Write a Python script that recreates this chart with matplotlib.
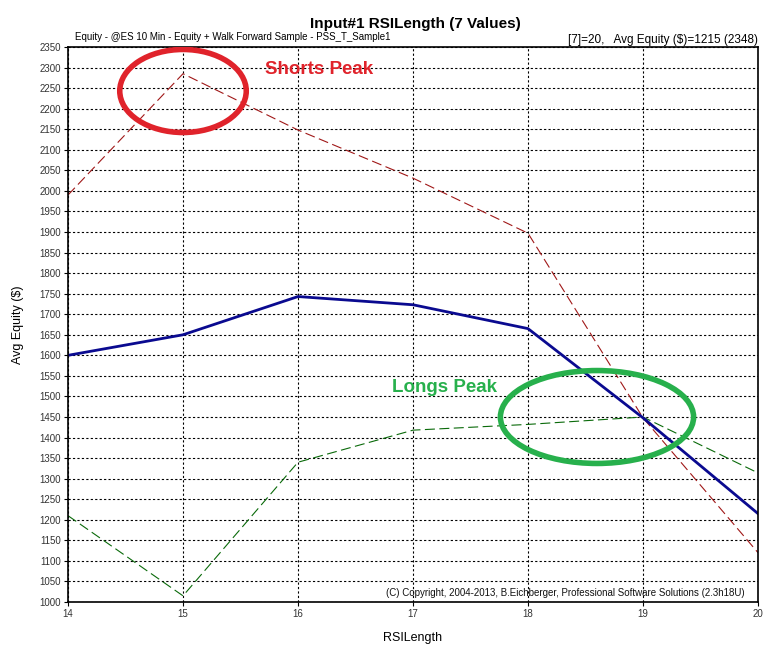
import numpy as np
import matplotlib.pyplot as plt
from matplotlib.patches import Ellipse

plt.rcParams['font.family'] = ['Liberation Sans', 'DejaVu Sans']

rsi_length = [14, 15, 16, 17, 18, 19, 20]
avg_equity = [1600, 1650, 1743, 1723, 1665, 1448, 1215]
shorts_equity = [1990, 2285, 2148, 2031, 1897, 1448, 1120]
longs_equity = [1210, 1015, 1340, 1418, 1432, 1450, 1314]

y_ticks = np.arange(1000, 2351, 50)

fig = plt.figure(figsize=(7.8, 6.5), dpi=100)
ax = fig.add_axes([68/780, 48/650, 690/780, 555/650])

ax.plot(rsi_length, shorts_equity, color='#a01818', lw=0.8, dashes=(9, 4))
ax.plot(rsi_length, longs_equity, color='#0a6a0a', lw=0.8, dashes=(9, 4))
ax.plot(rsi_length, avg_equity, color='#0a0a90', lw=2.0)

ax.set_xlim(14, 20)
ax.set_ylim(1000, 2350)
ax.set_xticks(rsi_length)
ax.set_yticks(y_ticks)
ax.tick_params(labelsize=7, colors='black', length=3, width=0.8, pad=2)
for lbl in ax.get_xticklabels() + ax.get_yticklabels():
    lbl.set_color('#333333')
ax.grid(True, color='black', lw=0.8, linestyle=(0, (2, 2)))
for s in ax.spines.values():
    s.set_linewidth(1.2)

# highlight circles
ax.add_patch(Ellipse((15.0, 2243), 1.10, 202, fill=False, ec='#e0232b', lw=4, zorder=5))
ax.add_patch(Ellipse((18.6, 1450), 1.68, 226, fill=False, ec='#27b04c', lw=4, zorder=5))
ax.text(15.71, 2296, 'Shorts Peak', color='#e0232b', fontsize=13.5, fontweight='bold', va='center')
ax.text(16.82, 1521, 'Longs Peak', color='#27b04c', fontsize=13.5, fontweight='bold', va='center')

ax.text(0.981, 0.017, '(C) Copyright, 2004-2013, B.Eichberger, Professional Software Solutions (2.3h18U)',
        transform=ax.transAxes, ha='right', va='center', fontsize=7, color='#111111')

fig.text(415/780, 1 - 24/650, 'Input#1 RSILength (7 Values)', ha='center', va='center',
         fontsize=11, fontweight='bold')
fig.text(75/780, 1 - 37/650, 'Equity - @ES 10 Min - Equity + Walk Forward Sample - PSS_T_Sample1',
         ha='left', va='center', fontsize=7)
fig.text(758/780, 1 - 40/650, '[7]=20,   Avg Equity ($)=1215 (2348)', ha='right', va='center',
         fontsize=8.5)
fig.text(18/780, 1 - 325/650, 'Avg Equity ($)', rotation=90, ha='center', va='center', fontsize=9)
fig.text(413/780, 1 - 638/650, 'RSILength', ha='center', va='center', fontsize=9)

plt.savefig('out.png', dpi=100)
